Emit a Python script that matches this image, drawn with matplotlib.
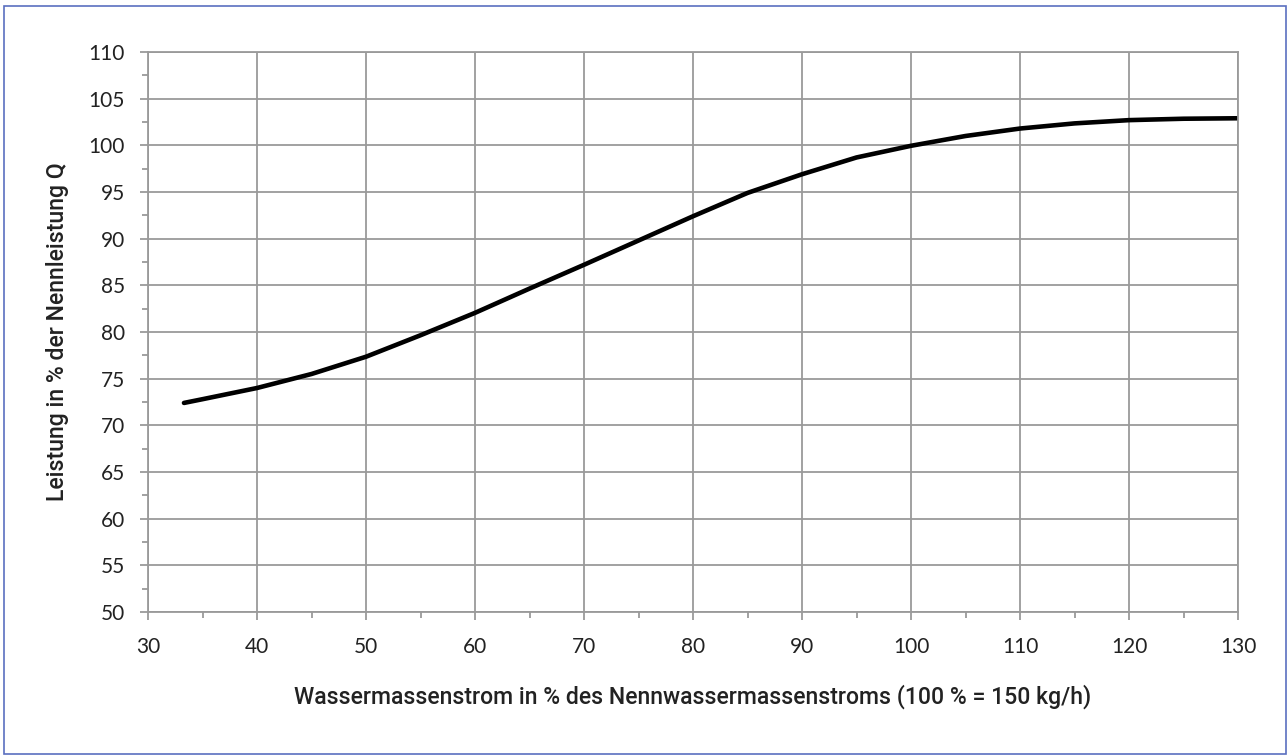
import matplotlib.pyplot as plt
import matplotlib.patches as patches
from matplotlib.ticker import MultipleLocator

# values
massflow = [33.3, 35, 40, 45, 50, 55, 60, 65, 70, 75, 80, 85, 90, 95,
            100, 105, 110, 115, 120, 125, 130]
leistung = [72.4, 72.8, 74.0, 75.5, 77.35, 79.65, 82.05, 84.65, 87.2, 89.8,
            92.4, 94.9, 96.9, 98.7, 99.95, 101.0, 101.8, 102.35, 102.7,
            102.85, 102.9]

xlabel = 'Wassermassenstrom in % des Nennwassermassenstroms (100 % = 150 kg/h)'
ylabel = 'Leistung in % der Nennleistung Q'

grid_c = '#9a9a9a'

fig = plt.figure(figsize=(12.88, 7.56), dpi=100)
ax = fig.add_axes([148/1288, 1-612/756, 1090/1288, 560/756])

ax.plot(massflow, leistung, '-', color='black', lw=3.3,
        solid_capstyle='round', solid_joinstyle='round')

ax.set_xlim(30, 130)
ax.set_ylim(50, 110)
ax.xaxis.set_major_locator(MultipleLocator(10))
ax.xaxis.set_minor_locator(MultipleLocator(5))
ax.yaxis.set_major_locator(MultipleLocator(5))
ax.yaxis.set_minor_locator(MultipleLocator(2.5))
ax.grid(which='major', color=grid_c, lw=1.3)
ax.set_axisbelow(True)
for s in ax.spines.values():
    s.set_color(grid_c)
    s.set_linewidth(1.3)

ax.tick_params(which='major', length=6, width=1.3, color=grid_c,
               labelsize=15, labelcolor='#222222')
ax.tick_params(which='minor', length=4, width=1.3, color=grid_c)
ax.tick_params(axis='x', which='major', pad=12)
ax.tick_params(axis='y', which='major', pad=10.5)
for lab in ax.get_xticklabels() + ax.get_yticklabels():
    lab.set_family(['Lato', 'DejaVu Sans'])

ax.set_xlabel(xlabel, fontsize=16.6, family=['Roboto', 'DejaVu Sans'],
              fontweight='medium', color='#222222', va='center')
ax.set_ylabel(ylabel, fontsize=16.6, family=['Roboto', 'DejaVu Sans'],
              fontweight='medium', color='#222222', va='center')
ax.xaxis.set_label_coords(0.5, -(697-612)/560)
ax.yaxis.set_label_coords(-(148-58)/1090, 0.5)

# thin blue frame round the whole picture
frame = patches.Rectangle((4/1288, 2/756), 1282/1288, 748/756,
                          transform=fig.transFigure, fill=False,
                          edgecolor='#5a6fc0', lw=1.2)
fig.patches.append(frame)

plt.savefig('out.png', dpi=100)
